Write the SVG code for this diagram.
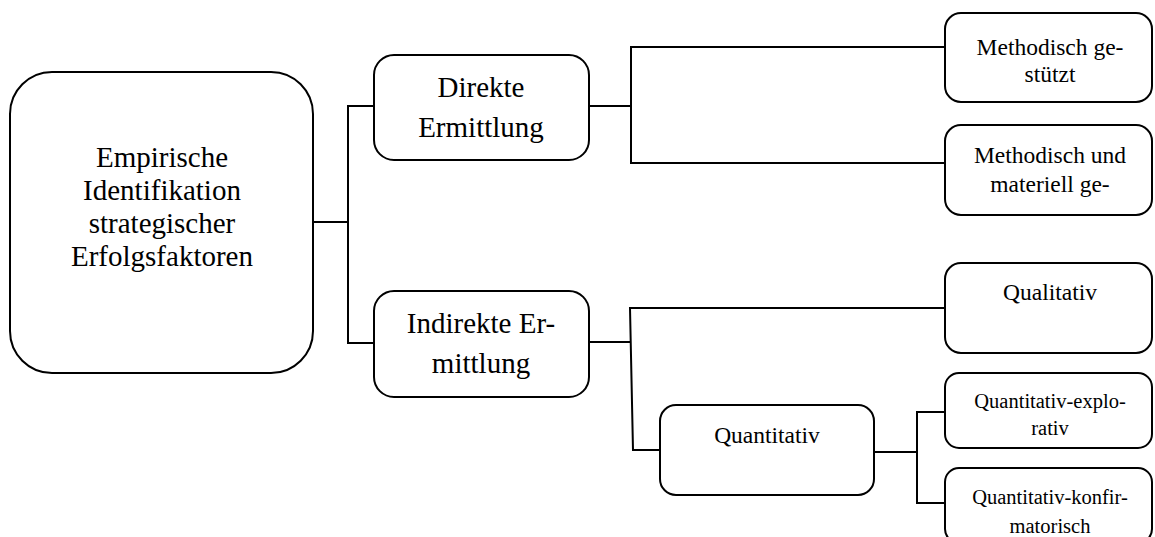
<svg xmlns="http://www.w3.org/2000/svg" width="1155" height="537" viewBox="0 0 1155 537">
<style>
.box{fill:#fff;stroke:#000;stroke-width:2}
.con{fill:none;stroke:#000;stroke-width:2}
text{font-family:"Liberation Serif","Times New Roman",serif;fill:#000;text-anchor:middle}
.l{font-size:29px}
.m{font-size:23.5px}
.s{font-size:20.5px}
</style>
<rect width="1155" height="537" fill="#fff"/>
<g id="connectors">
<polyline class="con" points="313,222 348,222"/>
<polyline class="con" points="374,106 348,106 348,343 374,343"/>
<polyline class="con" points="589,106 631,106"/>
<polyline class="con" points="945,47 631,47 631,163 945,163"/>
<polyline class="con" points="589,342 630,342"/>
<polyline class="con" points="945,308 630,308 633,450 660,450"/>
<polyline class="con" points="874,452 917,452"/>
<polyline class="con" points="945,412 917,412 917,503 945,503"/>
</g>
<g id="root">
<rect class="box" x="10" y="72" width="303" height="301" rx="42"/>
<text class="l" x="162" y="167">Empirische</text>
<text class="l" x="162" y="200">Identifikation</text>
<text class="l" x="162" y="233">strategischer</text>
<text class="l" x="162" y="266">Erfolgsfaktoren</text>
</g>
<g id="direkt">
<rect class="box" x="374" y="55" width="215" height="105" rx="20"/>
<text class="l" x="481" y="97">Direkte</text>
<text class="l" x="481" y="137">Ermittlung</text>
</g>
<g id="indirekt">
<rect class="box" x="374" y="291" width="215" height="106" rx="20"/>
<text class="l" x="481" y="333">Indirekte Er-</text>
<text class="l" x="481" y="373">mittlung</text>
</g>
<g id="methodisch">
<rect class="box" x="945" y="13" width="207" height="89" rx="16"/>
<text class="m" x="1050" y="55">Methodisch ge-</text>
<text class="m" x="1050" y="82">stützt</text>
</g>
<g id="methodisch-materiell">
<rect class="box" x="945" y="125" width="207" height="90" rx="16"/>
<text class="m" x="1050" y="163">Methodisch und</text>
<text class="m" x="1050" y="192">materiell ge-</text>
</g>
<g id="qualitativ">
<rect class="box" x="945" y="263" width="207" height="90" rx="16"/>
<text class="m" x="1050" y="300">Qualitativ</text>
</g>
<g id="quantitativ">
<rect class="box" x="660" y="405" width="214" height="90" rx="16"/>
<text class="m" x="767" y="443">Quantitativ</text>
</g>
<g id="explorativ">
<rect class="box" x="945" y="373" width="207" height="75" rx="14"/>
<text class="s" x="1050" y="408">Quantitativ-explo-</text>
<text class="s" x="1050" y="435">rativ</text>
</g>
<g id="konfirmatorisch">
<rect class="box" x="945" y="468" width="207" height="75" rx="14"/>
<text class="s" x="1050" y="504">Quantitativ-konfir-</text>
<text class="s" x="1050" y="533">matorisch</text>
</g>
</svg>
